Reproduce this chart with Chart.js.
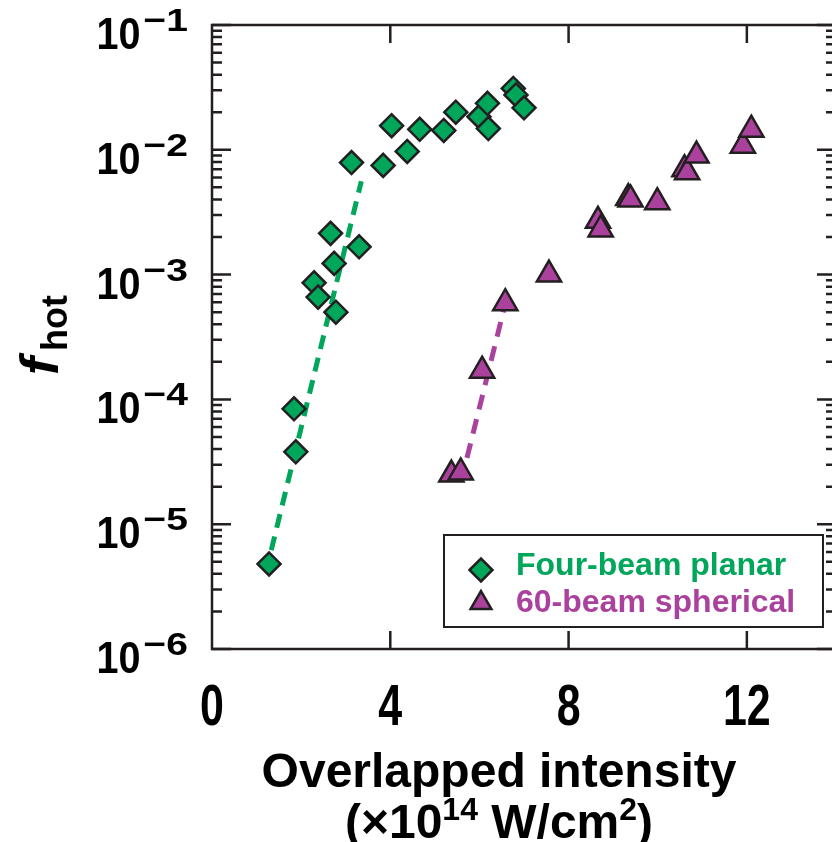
<!DOCTYPE html>
<html>
<head>
<meta charset="utf-8">
<script src="https://cdn.jsdelivr.net/npm/chart.js@4.4.1/dist/chart.umd.min.js"></script>
<style>
  html, body { margin: 0; padding: 0; background: #fff; overflow: hidden; }
  #wrap { position: relative; width: 840px; height: 842px; }
</style>
</head>
<body>
<div id="wrap"><canvas id="chart" width="840" height="842"></canvas></div>
<script>
// tick values
const xTicks = [0, 4, 8, 12];
const yDecades = [-6, -5, -4, -3, -2, -1];

// Four-beam planar (diamonds)
const planarX = [1.28, 1.84, 1.88, 2.29, 2.38, 2.66, 2.74, 2.78, 3.13, 3.30, 3.84, 4.03, 4.38, 4.66, 5.20, 5.47, 5.99, 6.18, 6.20, 6.76, 6.82, 7.00];
const planarY = [4.8e-6, 8.4e-5, 3.8e-5, 8.6e-4, 6.6e-4, 2.14e-3, 1.23e-3, 5.0e-4, 7.9e-3, 1.67e-3, 7.5e-3, 1.56e-2, 9.7e-3, 1.46e-2, 1.43e-2, 2.0e-2, 1.84e-2, 2.36e-2, 1.48e-2, 3.1e-2, 2.75e-2, 2.17e-2];

// 60-beam spherical (triangles)
const sphericalX = [5.37, 5.58, 6.06, 6.58, 7.56, 8.66, 8.72, 9.34, 9.39, 9.99, 10.60, 10.66, 10.87, 11.91, 12.10];
const sphericalY = [2.5e-5, 2.6e-5, 1.7e-4, 5.9e-4, 1.0e-3, 2.7e-3, 2.3e-3, 4.1e-3, 4.0e-3, 3.8e-3, 7.0e-3, 6.6e-3, 9.0e-3, 1.08e-2, 1.45e-2];

// dashed fit lines
const planarFitX = [1.33, 3.35];
const planarFitY = [6.2e-6, 5.6e-3];
const sphericalFitX = [5.72, 6.55];
const sphericalFitY = [3.4e-5, 5.3e-4];

const GREEN = '#00a65a';
const MAGENTA = '#aa429d';
const INK = '#231f20';
const FONT = '"Liberation Sans", Arial, Helvetica, sans-serif';

const toPoints = (xs, ys) => xs.map((x, i) => ({ x: x, y: ys[i] }));

// draw text stretched/squeezed horizontally
function squeezed(ctx, text, x, y, sx) {
  ctx.save();
  ctx.translate(x, y);
  ctx.scale(sx, 1);
  ctx.fillText(text, 0, 0);
  ctx.restore();
}

const framePlugin = {
  id: 'frame',
  beforeDatasetsDraw(chart) {
    const { ctx, chartArea: a, scales: { x, y } } = chart;
    ctx.save();
    ctx.strokeStyle = INK;
    ctx.lineWidth = 2.5;
    ctx.strokeRect(a.left, a.top, a.right - a.left, a.bottom - a.top);
    ctx.beginPath();
    // x ticks, top and bottom, inward
    xTicks.forEach(v => {
      if (v === 0) return;
      const px = x.getPixelForValue(v);
      ctx.moveTo(px, a.bottom); ctx.lineTo(px, a.bottom - 18);
      ctx.moveTo(px, a.top); ctx.lineTo(px, a.top + 18);
    });
    // y ticks, left and right, decades plus minors
    yDecades.forEach(d => {
      for (let m = 1; m <= 9; m++) {
        if (d === -1 && m > 1) break;
        const py = y.getPixelForValue(m * Math.pow(10, d));
        const len = m === 1 ? 19 : 10;
        ctx.moveTo(a.left, py); ctx.lineTo(a.left + len, py);
        ctx.moveTo(a.right, py); ctx.lineTo(a.right - len, py);
      }
    });
    ctx.stroke();
    ctx.restore();
  },
  afterDraw(chart) {
    const { ctx, chartArea: a, scales: { x, y } } = chart;
    ctx.save();
    ctx.fillStyle = '#000';
    ctx.textBaseline = 'alphabetic';

    // x tick labels
    ctx.font = 'bold 58px ' + FONT;
    xTicks.forEach(v => {
      const px = x.getPixelForValue(v);
      const w = ctx.measureText(String(v)).width * 0.74;
      squeezed(ctx, String(v), px - w / 2, a.bottom + 76, 0.74);
    });

    // y tick labels 10^n
    yDecades.forEach(d => {
      const py = y.getPixelForValue(Math.pow(10, d));
      const exp = '\u2212' + Math.abs(d);
      ctx.font = 'bold 32px ' + FONT;
      const wExp = ctx.measureText(exp).width * 1.22;
      ctx.font = 'bold 45px ' + FONT;
      const w10 = ctx.measureText('10').width * 0.88;
      const right = a.left - 24;
      squeezed(ctx, '10', right - wExp - w10 - 3, py + 24, 0.88);
      ctx.font = 'bold 32px ' + FONT;
      squeezed(ctx, exp, right - wExp, py + 6, 1.22);
    });

    // x title
    const cx = a.left + 287;
    ctx.textAlign = 'center';
    ctx.font = 'bold 48px ' + FONT;
    ctx.fillText('Overlapped intensity', cx, 787);
    ctx.textAlign = 'left';
    const parts = [
      ['(\u00d710', 48, 0], ['14', 32, -18], [' W/cm', 48, 0], ['2', 32, -18], [')', 48, 0]
    ];
    let total = 0;
    parts.forEach(p => { ctx.font = 'bold ' + p[1] + 'px ' + FONT; total += ctx.measureText(p[0]).width; });
    let tx = cx - total / 2;
    parts.forEach(p => {
      ctx.font = 'bold ' + p[1] + 'px ' + FONT;
      ctx.fillText(p[0], tx, 838 + p[2]);
      tx += ctx.measureText(p[0]).width;
    });

    // y title f_hot
    ctx.save();
    ctx.translate(58, 375);
    ctx.rotate(-Math.PI / 2);
    ctx.font = 'italic bold 54px ' + FONT;
    ctx.fillText('f', 0, 0);
    const fw = ctx.measureText('f').width;
    ctx.font = 'bold 36px ' + FONT;
    ctx.fillText('hot', fw + 6, 9);
    ctx.restore();

    // legend
    ctx.lineWidth = 2;
    ctx.strokeStyle = INK;
    ctx.strokeRect(444, 535, 379, 92);
    ctx.lineWidth = 2.5;
    ctx.beginPath();
    ctx.moveTo(481 - 11.5, 570); ctx.lineTo(481, 558.5); ctx.lineTo(481 + 11.5, 570); ctx.lineTo(481, 581.5);
    ctx.closePath();
    ctx.fillStyle = GREEN; ctx.fill(); ctx.stroke();
    const r = 12;
    ctx.beginPath();
    ctx.moveTo(481, 603 - r);
    ctx.lineTo(481 + r * Math.sin(2 * Math.PI / 3), 603 + r / 2);
    ctx.lineTo(481 - r * Math.sin(2 * Math.PI / 3), 603 + r / 2);
    ctx.closePath();
    ctx.fillStyle = MAGENTA; ctx.fill(); ctx.stroke();
    ctx.font = 'bold 32px ' + FONT;
    ctx.fillStyle = GREEN;
    ctx.fillText('Four-beam planar', 516, 575);
    ctx.fillStyle = MAGENTA;
    ctx.fillText('60-beam spherical', 516, 612);

    ctx.restore();
  }
};

new Chart(document.getElementById('chart'), {
  type: 'scatter',
  data: {
    datasets: [
      {
        label: 'Four-beam planar',
        data: toPoints(planarX, planarY),
        pointStyle: 'rectRot',
        pointRadius: 11.5,
        backgroundColor: GREEN,
        borderColor: INK,
        borderWidth: 2.5
      },
      {
        label: '60-beam spherical',
        data: toPoints(sphericalX, sphericalY),
        pointStyle: 'triangle',
        pointRadius: 14,
        backgroundColor: MAGENTA,
        borderColor: INK,
        borderWidth: 2.5
      },
      {
        type: 'line',
        data: toPoints(planarFitX, planarFitY),
        borderColor: GREEN,
        borderWidth: 5,
        borderDash: [14, 9],
        pointRadius: 0,
        fill: false
      },
      {
        type: 'line',
        data: toPoints(sphericalFitX, sphericalFitY),
        borderColor: MAGENTA,
        borderWidth: 5,
        borderDash: [15, 10],
        pointRadius: 0,
        fill: false
      }
    ]
  },
  options: {
    responsive: false,
    animation: false,
    layout: { autoPadding: false, padding: { left: 212, right: 4, top: 25, bottom: 193 } },
    plugins: { legend: { display: false }, tooltip: { enabled: false } },
    scales: {
      x: {
        type: 'linear',
        display: false,
        min: 0,
        max: 14
      },
      y: {
        type: 'logarithmic',
        display: false,
        min: 1e-6,
        max: 1e-1
      }
    }
  },
  plugins: [framePlugin]
});
</script>
</body>
</html>
